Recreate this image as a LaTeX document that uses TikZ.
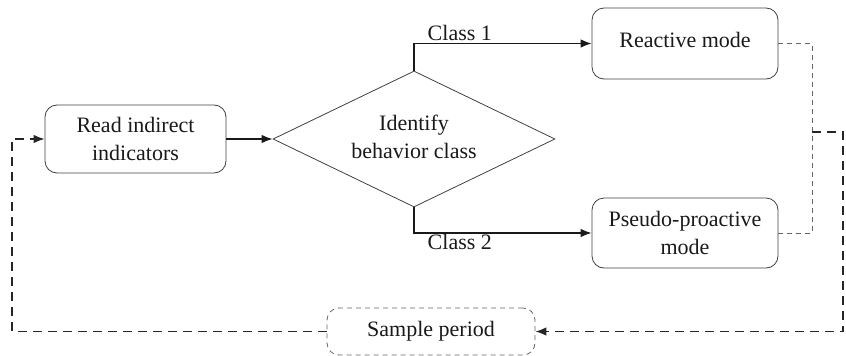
\documentclass[tikz,border=0pt]{standalone}
\usepackage{fontspec}
\setmainfont{Liberation Serif}
\usetikzlibrary{shapes.geometric,arrows.meta}
\begin{document}
\begin{tikzpicture}[x=1pt,y=-1pt,
  txt/.style={font=\fontsize{22}{28}\selectfont, align=center, text=black!90},
  box/.style={txt, draw=black!75, line width=0.8pt, rounded corners=12pt, inner sep=0pt},
  dbox/.style={box, draw=black!60, dash pattern=on 5pt off 4pt},
  arr/.style={draw=black!90, line width=1.3pt, -{Latex[length=11pt,width=8.5pt]}},
  gdash/.style={draw=black!60, line width=1pt, dash pattern=on 5pt off 4pt},
  bdash/.style={draw=black!85, line width=1.3pt, dash pattern=on 9pt off 6pt},
  lbl/.style={font=\fontsize{22}{26}\selectfont, text=black!90}]
\useasboundingbox (0,0) rectangle (846,356);
\node[box, minimum width=181pt, minimum height=68pt] (read) at (135.5,139) {Read indirect\\indicators};
\node[txt, draw=black!75, line width=0.8pt, shape=diamond, inner sep=0pt, aspect=2.07, minimum width=282pt, minimum height=136pt] (dec) at (414,139) {\raisebox{3pt}{\begin{tabular}{@{}c@{}}Identify\\behavior class\end{tabular}}};
\node[box, minimum width=186pt, minimum height=71pt] (rea) at (685,43.5) {\raisebox{7pt}{Reactive mode}};
\node[box, minimum width=186pt, minimum height=70pt] (pse) at (685,233) {Pseudo-proactive\\mode};
\node[dbox, minimum width=208pt, minimum height=47pt] (smp) at (431,331.5) {\raisebox{5pt}{Sample period}};
\coordinate (mid) at (812,132);
\coordinate (rgt) at (843,132);
\coordinate (lft) at (12,139);
\draw[arr] (read.east) -- (dec.west);
\draw[arr] (dec.north) |- node[lbl, pos=0.629, above, inner sep=2pt] {Class 1} (rea.west);
\draw[arr] (dec.south) |- node[lbl, pos=0.629, below, inner sep=1pt] {Class 2} (pse.west);
\draw[gdash] (rea.east) -| (mid) |- (pse.east);
\draw[bdash, -{Latex[length=11pt,width=8.5pt]}] (mid) -- (rgt) |- (smp.east);
\draw[bdash, -{Latex[length=11pt,width=8.5pt]}] (smp.west) -| (lft) -- (read.west);
\end{tikzpicture}
\end{document}
